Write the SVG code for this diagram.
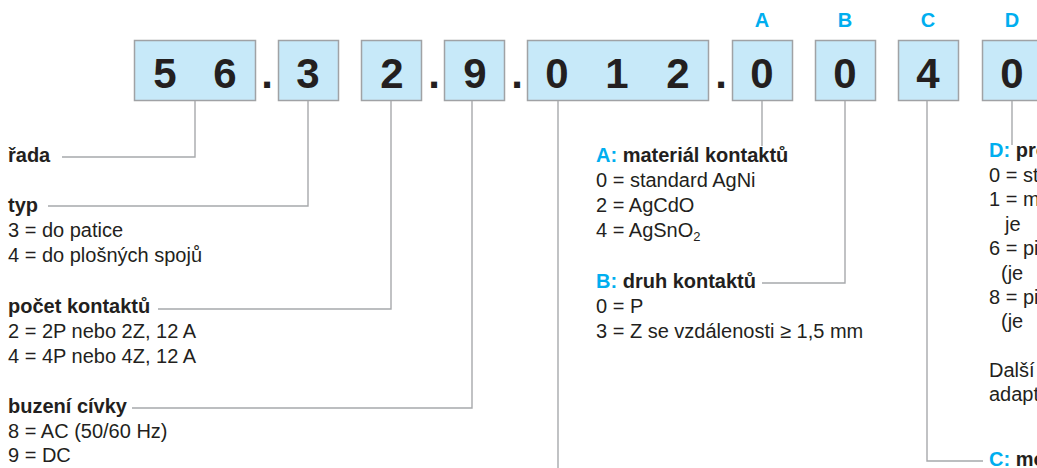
<svg xmlns="http://www.w3.org/2000/svg" width="1037" height="468" viewBox="0 0 1037 468">
<style>
.box{fill:#c7e9f9;stroke:#a0a2a5;stroke-width:1.5}
.dig{font-family:"Liberation Sans",Arial,sans-serif;font-weight:bold;font-size:42px;fill:#231f20;text-anchor:middle}
.let{font-family:"Liberation Sans",Arial,sans-serif;font-weight:bold;font-size:20px;fill:#00aeef;text-anchor:middle}
.t{font-family:"Liberation Sans",Arial,sans-serif;font-size:20px;fill:#231f20}
.b{font-weight:bold}
.c{fill:#00aeef}
.ln{fill:none;stroke:#a7a9ac;stroke-width:1.4}
</style>
<rect width="1037" height="468" fill="#ffffff"/>
<g id="code">
  <g id="box-56"><rect class="box" x="134.5" y="40.5" width="121" height="60"/><text class="dig" x="165" y="88">5</text><text class="dig" x="225" y="88">6</text></g>
  <text class="dig" x="267" y="88">.</text>
  <g id="box-3"><rect class="box" x="278.5" y="40.5" width="60" height="60"/><text class="dig" x="308" y="88">3</text></g>
  <g id="box-2"><rect class="box" x="361.5" y="40.5" width="60" height="60"/><text class="dig" x="392" y="88">2</text></g>
  <text class="dig" x="434" y="88">.</text>
  <g id="box-9"><rect class="box" x="444.5" y="40.5" width="60" height="60"/><text class="dig" x="475" y="88">9</text></g>
  <text class="dig" x="517" y="88">.</text>
  <g id="box-012"><rect class="box" x="527.5" y="40.5" width="181" height="60"/><text class="dig" x="557" y="88">0</text><text class="dig" x="617" y="88">1</text><text class="dig" x="678" y="88">2</text></g>
  <text class="dig" x="721" y="88">.</text>
  <g id="box-A"><rect class="box" x="732.5" y="40.5" width="60" height="60"/><text class="dig" x="762" y="88">0</text><text class="let" x="762" y="27">A</text></g>
  <g id="box-B"><rect class="box" x="815.5" y="40.5" width="60" height="60"/><text class="dig" x="845" y="88">0</text><text class="let" x="845" y="27">B</text></g>
  <g id="box-C"><rect class="box" x="898.5" y="40.5" width="60" height="60"/><text class="dig" x="928" y="88">4</text><text class="let" x="928" y="27">C</text></g>
  <g id="box-D"><rect class="box" x="982.5" y="40.5" width="60" height="60"/><text class="dig" x="1012" y="88">0</text><text class="let" x="1012" y="27">D</text></g>
</g>
<g id="connectors">
  <polyline class="ln" points="195,101 195,157 62,157"/>
  <polyline class="ln" points="308,101 308,206 48,206"/>
  <polyline class="ln" points="391,101 391,309 158,309"/>
  <polyline class="ln" points="472,101 472,408 132,408"/>
  <polyline class="ln" points="558,101 558,468"/>
  <polyline class="ln" points="762,101 762,146"/>
  <polyline class="ln" points="845,101 845,283 762,283"/>
  <polyline class="ln" points="1012,101 1012,145"/>
  <polyline class="ln" points="927,101 927,461 983,461"/>
</g>
<g id="legend-rada"><text class="t b" x="8" y="162">řada</text></g>
<g id="legend-typ">
  <text class="t b" x="8" y="212">typ</text>
  <text class="t" x="8" y="237">3 = do patice</text>
  <text class="t" x="8" y="262">4 = do plošných spojů</text>
</g>
<g id="legend-pocet">
  <text class="t b" x="8" y="313">počet kontaktů</text>
  <text class="t" x="8" y="338">2 = 2P nebo 2Z, 12 A</text>
  <text class="t" x="8" y="363">4 = 4P nebo 4Z, 12 A</text>
</g>
<g id="legend-buzeni">
  <text class="t b" x="8" y="413">buzení cívky</text>
  <text class="t" x="8" y="438">8 = AC (50/60 Hz)</text>
  <text class="t" x="8" y="462">9 = DC</text>
</g>
<g id="legend-A">
  <text class="t b" x="596" y="162"><tspan class="c">A:</tspan> materiál kontaktů</text>
  <text class="t" x="596" y="187">0 = standard AgNi</text>
  <text class="t" x="596" y="212">2 = AgCdO</text>
  <text class="t" x="596" y="237">4 = AgSnO<tspan font-size="13" dy="4">2</tspan></text>
</g>
<g id="legend-B">
  <text class="t b" x="596" y="288"><tspan class="c">B:</tspan> druh kontaktů</text>
  <text class="t" x="596" y="313">0 = P</text>
  <text class="t" x="596" y="338">3 = Z se vzdálenosti ≥ 1,5 mm</text>
</g>
<g id="legend-D">
  <text class="t b" x="989" y="157"><tspan class="c">D:</tspan> pro</text>
  <text class="t" x="989" y="182">0 = st</text>
  <text class="t" x="989" y="206">1 = m</text>
  <text class="t" x="1005" y="231">je</text>
  <text class="t" x="989" y="255">6 = pi</text>
  <text class="t" x="1001" y="280">(je</text>
  <text class="t" x="989" y="304">8 = pi</text>
  <text class="t" x="1001" y="328">(je</text>
  <text class="t" x="989" y="377">Další</text>
  <text class="t" x="989" y="401">adapt</text>
</g>
<g id="legend-C">
  <text class="t b" x="989" y="466"><tspan class="c">C:</tspan> mo</text>
</g>
</svg>
